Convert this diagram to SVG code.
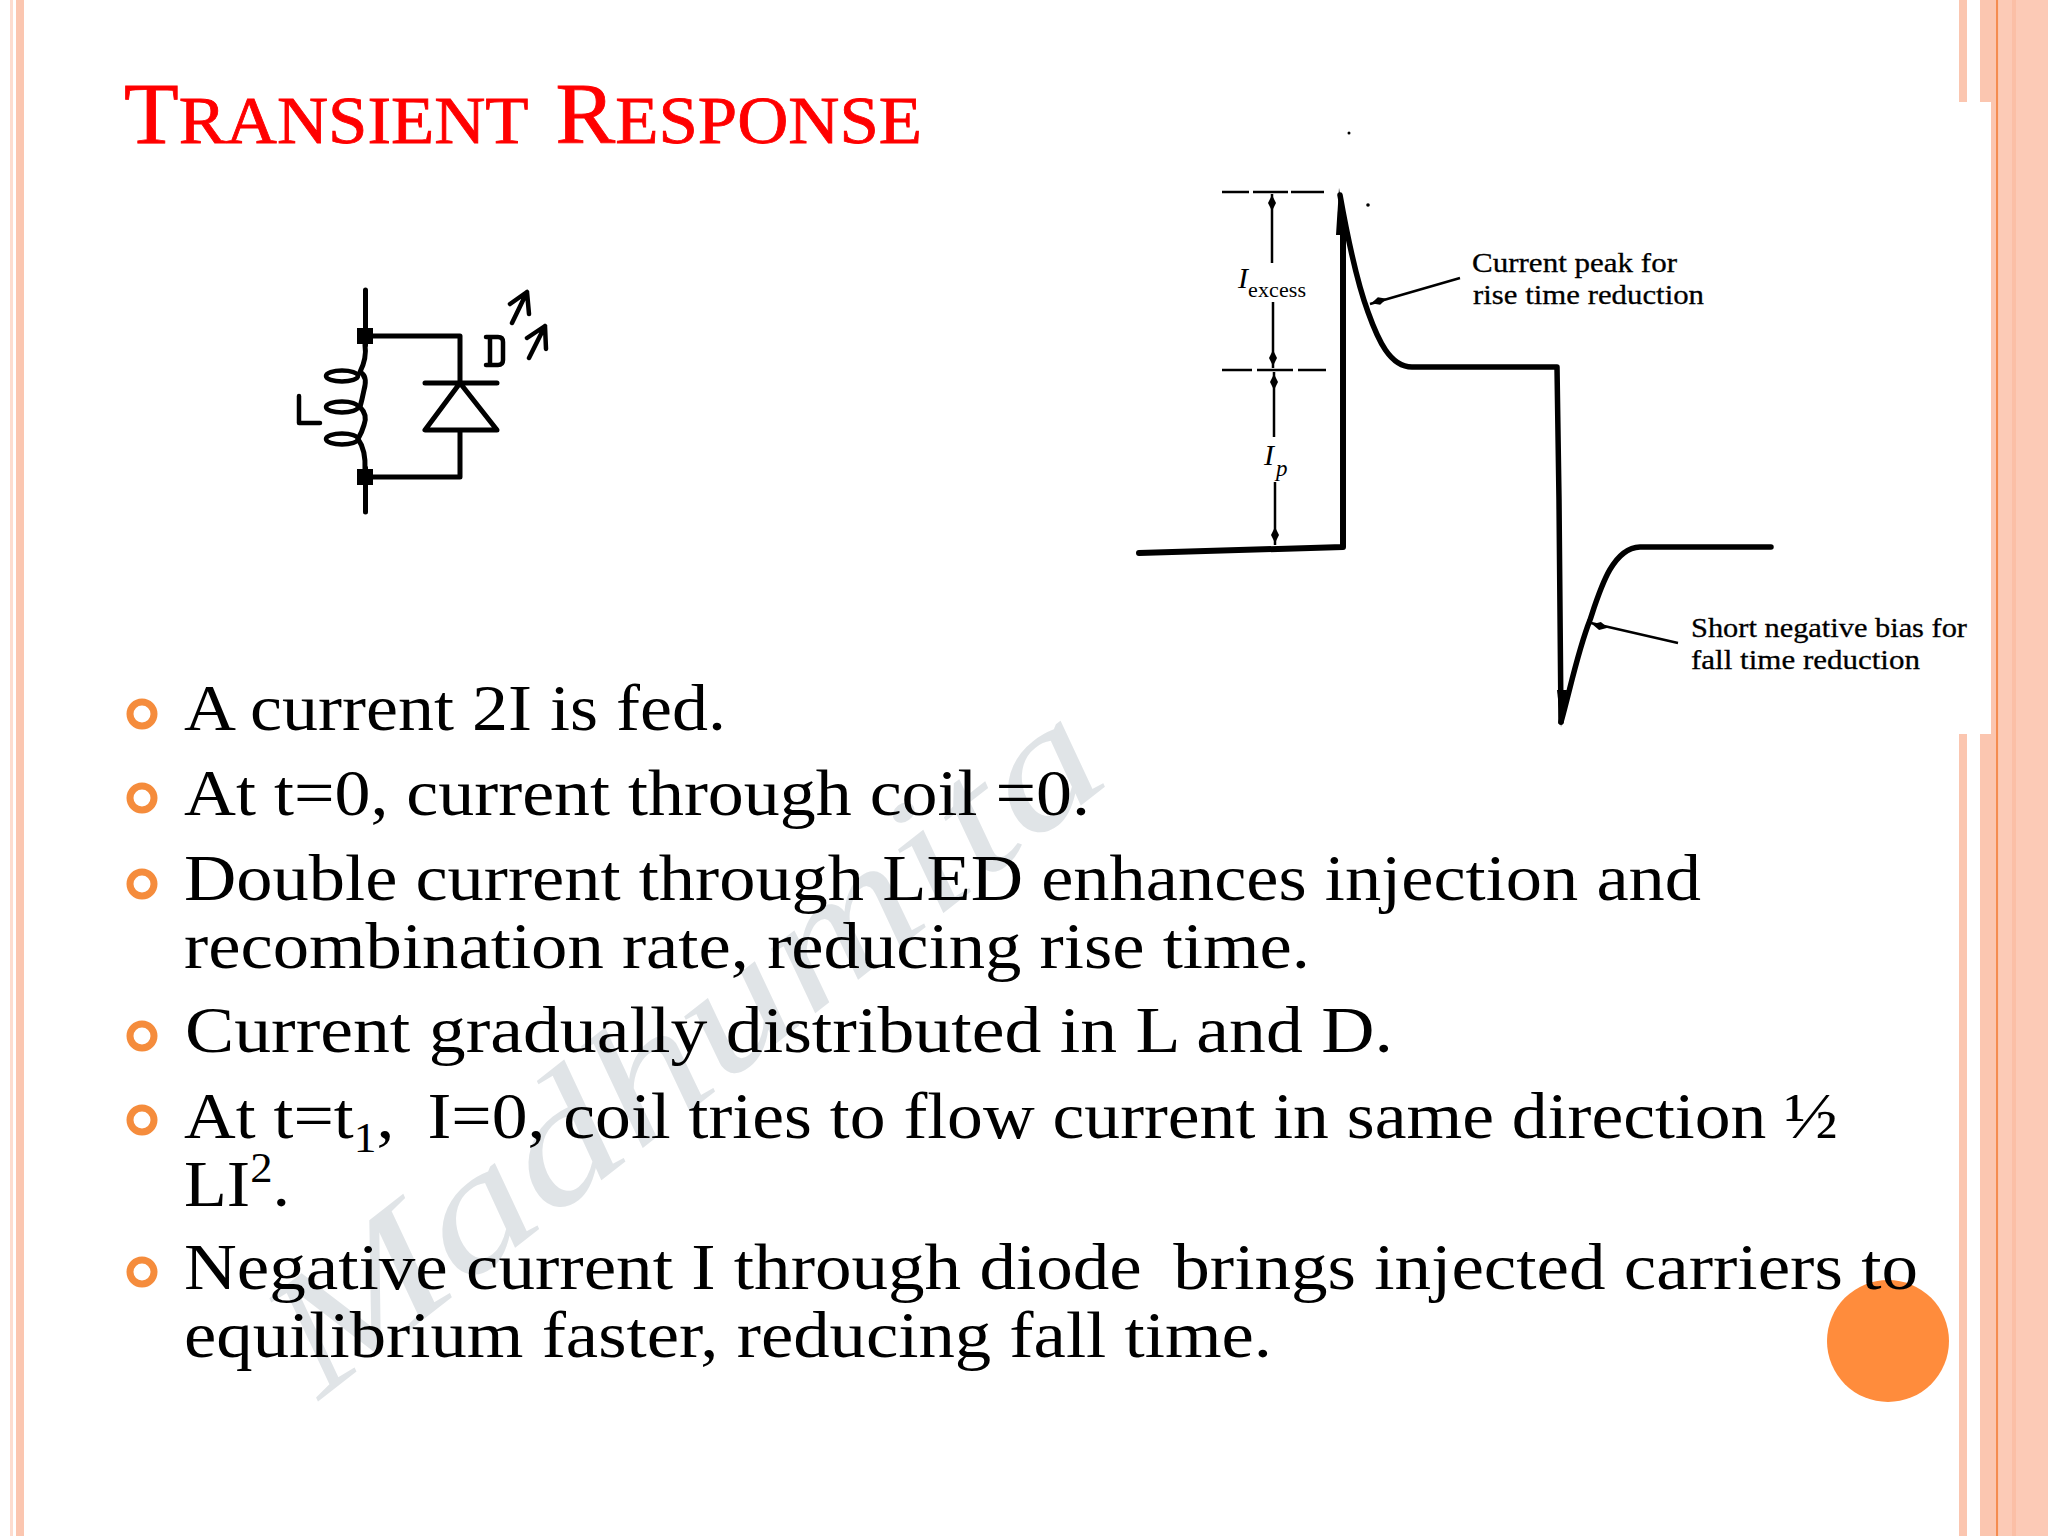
<svg xmlns="http://www.w3.org/2000/svg" width="2048" height="1536" viewBox="0 0 2048 1536">
<style>
.band{fill:#fbc6b0}
.t{font-family:"Liberation Serif",serif;fill:#000}
.b{font-size:66px}
.wm{font-family:"Liberation Serif",serif;font-style:italic;fill:#e0e4e7}
.w{fill:none;stroke:#000;stroke-linecap:round;stroke-linejoin:round}
.c{font-size:27px;stroke:#000;stroke-width:.3}
.bul{fill:none;stroke:#f58c3c;stroke-width:7}
.d{stroke-width:2.500;stroke-linecap:butt}
</style>
<defs><path id="di" d="M0 -8L4 0L0 8L-4 0Z" fill="#000"/></defs>
<rect width="2048" height="1536" fill="#fff"/>
<g id="frame">
<rect x="10" y="0" width="3" height="1536" fill="#fddccf"/>
<rect x="16" y="0" width="8" height="1536" class="band"/>
<rect x="1959" y="0" width="8" height="1536" class="band"/>
<rect x="1980" y="0" width="16" height="1536" class="band"/>
<rect x="1996" y="0" width="2.5" height="1536" fill="#f58c50"/>
<rect x="1998.500" y="0" width="14" height="1536" fill="#fccab6"/>
<rect x="2012" y="0" width="4" height="1536" fill="#fbbfa6"/>
<rect x="2016" y="0" width="32" height="1536" fill="#fccab6"/>
<rect x="1000" y="102" width="991" height="632" fill="#fff"/>
</g>
<g id="watermark">
<text class="wm" x="320" y="1400" font-size="170" transform="rotate(-38 320 1400)" textLength="1010" lengthAdjust="spacingAndGlyphs">Madhumita</text>
</g>
<g id="title"><text x="124" y="143" font-family="Liberation Serif,serif" fill="#f00" stroke="#f00" stroke-width=".8" font-size="86" textLength="798" lengthAdjust="spacingAndGlyphs"><tspan>T</tspan><tspan font-size="97" style="font-variant:small-caps">ransient</tspan><tspan dx="26">R</tspan><tspan font-size="97" style="font-variant:small-caps">esponse</tspan></text></g>
<g id="accent"><circle cx="1888" cy="1341" r="61" fill="#ff8c3c"/></g>
<g id="bullets">
<circle class="bul" cx="142" cy="714" r="12"/><circle class="bul" cx="142" cy="798" r="12"/><circle class="bul" cx="142" cy="884" r="12"/><circle class="bul" cx="142" cy="1036" r="12"/><circle class="bul" cx="142" cy="1120" r="12"/><circle class="bul" cx="142" cy="1272" r="12"/>
</g>
<g id="body">
<text class="t b" x="184" y="730" textLength="542" lengthAdjust="spacingAndGlyphs">A current 2I is fed.</text>
<text class="t b" x="184" y="815" textLength="906" lengthAdjust="spacingAndGlyphs">At t=0, current through coil =0.</text>
<text class="t b" x="184" y="900" textLength="1517" lengthAdjust="spacingAndGlyphs">Double current through LED enhances injection and</text>
<text class="t b" x="184" y="968" textLength="1126" lengthAdjust="spacingAndGlyphs">recombination rate, reducing rise time.</text>
<text class="t b" x="185" y="1052" textLength="1208" lengthAdjust="spacingAndGlyphs">Current gradually distributed in L and D.</text>
<text class="t b" x="184" y="1138" textLength="1654" lengthAdjust="spacingAndGlyphs">At t=t<tspan font-size="42" dy="14">1</tspan><tspan dy="-14">,</tspan><tspan dx="14"> I=0, coil tries to flow current in same direction ½</tspan></text>
<text class="t b" x="184" y="1206" textLength="106" lengthAdjust="spacingAndGlyphs">LI<tspan font-size="42" dy="-24">2</tspan><tspan dy="24">.</tspan></text>
<text class="t b" x="184" y="1289" textLength="1734" lengthAdjust="spacingAndGlyphs">Negative current I through diode <tspan dx="12">brings injected carriers to</tspan></text>
<text class="t b" x="184" y="1357" textLength="1088" lengthAdjust="spacingAndGlyphs">equilibrium faster, reducing fall time.</text>
</g>
<g id="circuit">
<path class="w" stroke-width="5" stroke-linecap="butt" d="M365.500 290V345M365.500 336H460V383M425 383H497M460 383L425 430H497L460 383M460 430V477H365.500M365.500 468V512"/>
<rect x="357" y="328" width="16" height="16"/><rect x="357" y="469" width="16" height="16"/>
<path class="w" stroke-width="5" d="M365 345Q367 358 360 372Q368 376 364 390Q362 400 360 407Q368 415 364 425Q362 432 358 439Q366 450 365 470"/>
<ellipse class="w" stroke-width="4.500" cx="342" cy="376" rx="16" ry="5.500"/><ellipse class="w" stroke-width="4.500" cx="342" cy="407" rx="16" ry="5.500"/><ellipse class="w" stroke-width="4.500" cx="342" cy="439" rx="16" ry="5.500"/>
<path class="w" stroke-width="4.500" stroke-linecap="butt" d="M299 396V423H320M486 337H498Q503 337 503 342V360Q503 365 498 365H486M490 337V365"/>
<path class="w" stroke-width="4.500" stroke-linecap="butt" d="M512 323L527 292M510 304L527 292L529 314M529 358L545 326M527 338L545 326L546 349"/>
</g>
<g id="waveform">
<path class="w" stroke-width="6" d="M1139 553L1343 547V225"/>
<path d="M1339 188L1336 235H1347Z" fill="#000"/>
<path class="w" stroke-width="5.500" d="M1340 195C1348 240 1358 285 1368 312C1378 340 1390 367 1412 367H1557L1559 500L1561 722"/>
<path d="M1557 690L1561 727L1567 690Z" fill="#000"/>
<path class="w" stroke-width="5.500" d="M1561 722C1570 690 1578 650 1590 620C1600 590 1612 548 1640 547H1771"/>
</g>
<g id="connectors">
<path class="w d" stroke-dasharray="27 4 35 3 34" d="M1222 192H1324"/>
<path class="w d" stroke-dasharray="30 5 36 5 29" d="M1222 370H1326"/>
<path class="w d" d="M1272 194V263M1273 302V368M1274 372V437M1275 482V545M1460 278L1370 304M1678 643L1591 623"/>
<use href="#di" x="1272" y="203"/><use href="#di" x="1273" y="358"/><use href="#di" x="1274" y="382"/><use href="#di" x="1275" y="535"/>
<use href="#di" transform="translate(1379 301) rotate(74)"/><use href="#di" transform="translate(1600 626) rotate(-77)"/>
</g>
<g id="labels">
<circle cx="1349" cy="133" r="1.500"/><circle cx="1368" cy="205" r="1.800"/>
<text class="t" x="1238" y="288" font-size="30" font-style="italic">I</text>
<text class="t" x="1248" y="297" font-size="22" textLength="58">excess</text>
<text class="t" x="1264" y="465" font-size="30" font-style="italic">I</text>
<text class="t" x="1276" y="476" font-size="23" font-style="italic">p</text>
<text class="t c" x="1472" y="272" textLength="205" lengthAdjust="spacingAndGlyphs">Current peak for</text>
<text class="t c" x="1473" y="304" textLength="231" lengthAdjust="spacingAndGlyphs">rise time reduction</text>
<text class="t c" x="1691" y="637" textLength="276" lengthAdjust="spacingAndGlyphs">Short negative bias for</text>
<text class="t c" x="1691" y="669" textLength="229" lengthAdjust="spacingAndGlyphs">fall time reduction</text>
</g>
</svg>
